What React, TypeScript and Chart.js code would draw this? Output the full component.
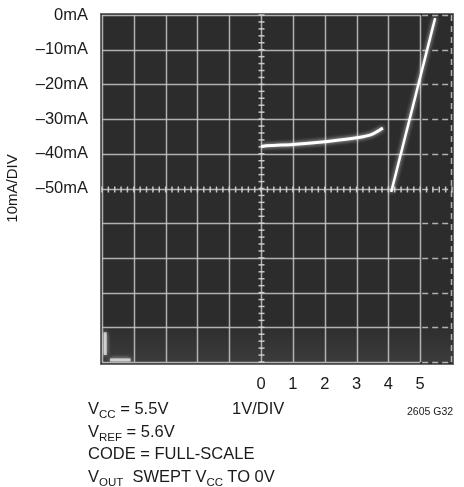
import React, { useEffect, useRef } from 'react';
import { Chart, registerables } from 'chart.js';

Chart.register(...registerables);

// ---- data ----
const xTickLabels = ['0', '1', '2', '3', '4', '5'];
const yTickLabels = ['0mA', '–10mA', '–20mA', '–30mA', '–40mA', '–50mA'];
const curveX = [0, 0.15, 1, 2, 3, 3.5, 3.83];
const curveY = [-37.9, -37.7, -37.3, -36.5, -35.4, -34.3, -32.6];
const rampX = [4.09, 5.47];
const rampY = [-51, -0.9];
const glareVX = [-4.9, -4.9];
const glareVY = [-91.4, -98];
const glareHX = [-4.75, -4.1];
const glareHY = [-99.4, -99.4];

const FONT = "'Liberation Sans', Arial, Helvetica, sans-serif";

const toPts = (xs: number[], ys: number[]) => xs.map((x, i) => ({ x, y: ys[i] }));

const scopePlugin = {
  id: 'scope',
  beforeDatasetsDraw(chart: any) {
    const { ctx, chartArea: a, scales } = chart;
    const x = scales.x;
    const y = scales.y;
    ctx.save();
    // frame and screen
    ctx.fillStyle = '#6a6a6a';
    ctx.fillRect(a.left - 2, a.top - 2, a.right - a.left + 4, a.bottom - a.top + 5);
    ctx.fillStyle = '#2c2c2c';
    ctx.fillRect(a.left - 1, a.top - 1, a.right - a.left + 2, a.bottom - a.top + 3);
    const g = ctx.createLinearGradient(0, a.bottom - 40, 0, a.bottom);
    g.addColorStop(0, 'rgba(70,70,70,0)');
    g.addColorStop(1, 'rgba(70,70,70,0.6)');
    ctx.fillStyle = g;
    ctx.fillRect(a.left - 1, a.bottom - 40, a.right - a.left + 2, 41);

    const gx0 = x.getPixelForValue(-5);
    const gx5 = x.getPixelForValue(5);
    const gx6 = x.getPixelForValue(6);
    const gyTop = y.getPixelForValue(0);
    const gyBot = y.getPixelForValue(-100);

    ctx.strokeStyle = 'rgba(200,200,200,0.85)';
    ctx.lineWidth = 1.5;
    // vertical grid
    for (let v = -5; v <= 5; v++) {
      const px = Math.round(x.getPixelForValue(v)) + 0.5;
      ctx.beginPath();
      ctx.moveTo(px, gyTop);
      ctx.lineTo(px, gyBot);
      ctx.stroke();
    }
    // horizontal grid
    for (let v = 0; v >= -100; v -= 10) {
      const py = Math.round(y.getPixelForValue(v)) + 0.5;
      ctx.setLineDash([]);
      ctx.beginPath();
      ctx.moveTo(gx0, py);
      ctx.lineTo(gx5, py);
      ctx.stroke();
      ctx.setLineDash([6, 4]);
      ctx.beginPath();
      ctx.moveTo(gx5 + 2, py);
      ctx.lineTo(gx6, py);
      ctx.stroke();
    }
    // dashed right edge
    ctx.setLineDash([6, 5]);
    ctx.beginPath();
    ctx.moveTo(Math.round(gx6) - 0.5, gyTop);
    ctx.lineTo(Math.round(gx6) - 0.5, gyBot);
    ctx.stroke();
    ctx.setLineDash([]);

    // minor ticks on centre axes
    ctx.strokeStyle = 'rgba(215,215,215,0.9)';
    ctx.lineWidth = 1.5;
    const cx = Math.round(x.getPixelForValue(0)) + 0.5;
    for (let v = 0; v >= -100; v -= 2) {
      const py = y.getPixelForValue(v);
      ctx.beginPath();
      ctx.moveTo(cx - 3, py);
      ctx.lineTo(cx + 3, py);
      ctx.stroke();
    }
    const cy = Math.round(y.getPixelForValue(-50)) + 0.5;
    for (let i = -25; i <= 30; i++) {
      const px = x.getPixelForValue(i * 0.2);
      ctx.beginPath();
      ctx.moveTo(px, cy - 3);
      ctx.lineTo(px, cy + 3);
      ctx.stroke();
    }
    ctx.restore();
    ctx.save();
    ctx.shadowColor = 'rgba(255,255,255,0.8)';
    ctx.shadowBlur = 4;
  },
  afterDatasetsDraw(chart: any) {
    chart.ctx.restore();
  },
};

export default function App() {
  const ref = useRef<HTMLCanvasElement | null>(null);

  useEffect(() => {
    if (!ref.current) return;
    const chart = new Chart(ref.current, {
      type: 'scatter',
      data: {
        datasets: [
          {
            data: toPts(curveX, curveY),
            showLine: true,
            borderColor: '#ffffff',
            borderWidth: 3,
            pointRadius: 0,
            cubicInterpolationMode: 'monotone',
          },
          {
            data: toPts(rampX, rampY),
            showLine: true,
            borderColor: '#ffffff',
            borderWidth: 2.5,
            pointRadius: 0,
          },
          {
            data: toPts(glareVX, glareVY),
            showLine: true,
            borderColor: 'rgba(225,225,225,0.85)',
            borderWidth: 3,
            pointRadius: 0,
          },
          {
            data: toPts(glareHX, glareHY),
            showLine: true,
            borderColor: 'rgba(225,225,225,0.85)',
            borderWidth: 3,
            pointRadius: 0,
          },
        ],
      } as any,
      options: {
        responsive: false,
        maintainAspectRatio: false,
        animation: false,
        layout: { padding: { left: 0, top: 15, right: 12, bottom: 95 } },
        plugins: { legend: { display: false }, tooltip: { enabled: false } },
        scales: {
          x: {
            type: 'linear',
            min: -5,
            max: 6,
            grid: { display: false, drawTicks: false },
            border: { display: false },
            ticks: {
              stepSize: 1,
              autoSkip: false,
              maxRotation: 0,
              padding: 13,
              color: '#1a1a1a',
              font: { family: FONT, size: 16.5 },
              callback: (v: any) => {
                const n = Number(v);
                return n >= 0 && n <= 5 && Number.isInteger(n) ? xTickLabels[n] : '';
              },
            },
            afterFit: (s: any) => {
              s.height = 30;
              s.paddingLeft = 0;
              s.paddingRight = 0;
            },
          },
          y: {
            type: 'linear',
            min: -100,
            max: 0,
            grid: { display: false, drawTicks: false },
            border: { display: false },
            ticks: {
              stepSize: 10,
              autoSkip: false,
              padding: 14,
              color: '#1a1a1a',
              font: { family: FONT, size: 16.5 },
              callback: (v: any) => {
                const idx = Math.round(-Number(v) / 10);
                return idx >= 0 && idx < yTickLabels.length ? yTickLabels[idx] : '';
              },
            },
            title: {
              display: true,
              text: '10mA/DIV',
              color: '#1a1a1a',
              font: { family: FONT, size: 15 },
              padding: { top: 4, bottom: 0 },
            },
            afterFit: (s: any) => {
              s.width = 102;
              s.paddingTop = 0;
              s.paddingBottom = 0;
            },
          },
        },
      } as any,
      plugins: [scopePlugin],
    });
    return () => chart.destroy();
  }, []);

  const sub: React.CSSProperties = { fontSize: '11.5px', position: 'relative', top: '4px', lineHeight: '0' };
  const line: React.CSSProperties = { height: '22.5px' };
  const textStyle: React.CSSProperties = {
    position: 'absolute',
    fontFamily: FONT,
    fontSize: '16.5px',
    lineHeight: '22.5px',
    color: '#1a1a1a',
    whiteSpace: 'pre',
  };

  return (
    <div style={{ position: 'absolute', left: 0, top: 0, width: 464, height: 487, background: '#fff' }}>
      <canvas ref={ref} width={464} height={487} style={{ display: 'block', width: 464, height: 487 }} />
      <div style={{ ...textStyle, left: 88, top: 397 }}>
        <div style={line}>V<span style={sub}>CC</span> = 5.5V</div>
        <div style={line}>V<span style={sub}>REF</span> = 5.6V</div>
        <div style={line}>CODE = FULL-SCALE</div>
        <div style={line}>V<span style={sub}>OUT</span>  SWEPT V<span style={sub}>CC</span> TO 0V</div>
      </div>
      <div style={{ ...textStyle, left: 232, top: 397 }}>1V/DIV</div>
      <div style={{ ...textStyle, left: 407, top: 401, fontSize: '10.5px', lineHeight: '20px' }}>2605 G32</div>
    </div>
  );
}
